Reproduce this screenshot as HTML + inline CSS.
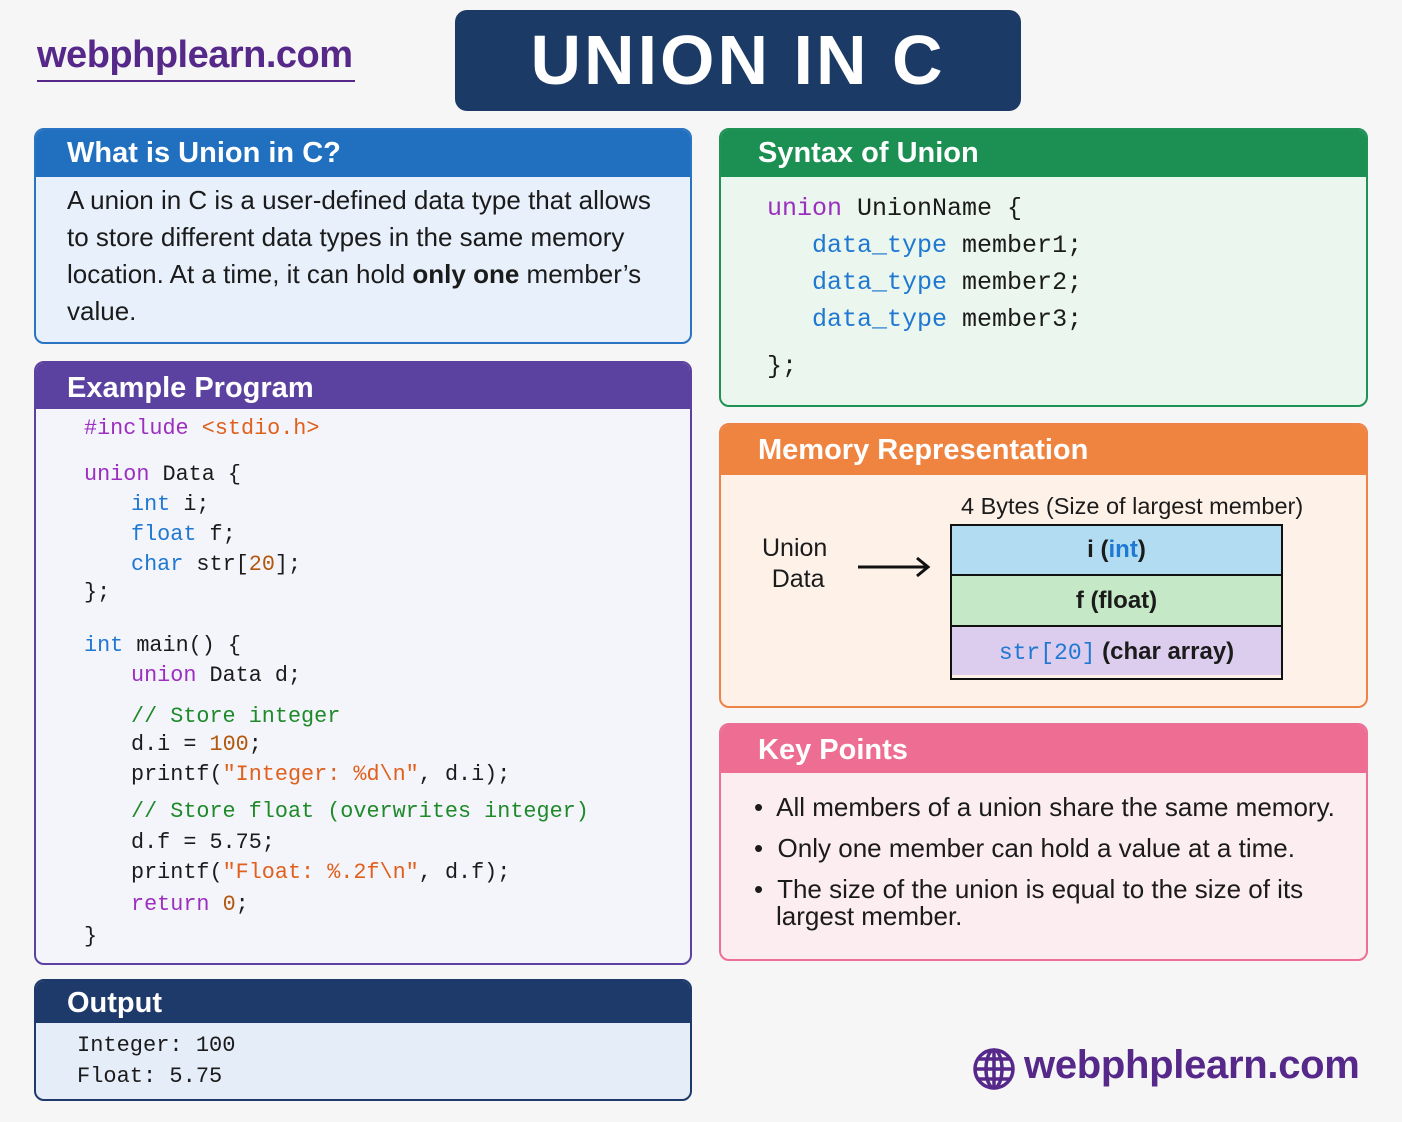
<!DOCTYPE html>
<html><head><meta charset="utf-8"><style>
*{margin:0;padding:0;box-sizing:border-box}
body{width:1402px;height:1122px;background:#f6f6f7;position:relative;overflow:hidden;font-family:"Liberation Sans",sans-serif;color:#1b1b1b}
.a{position:absolute;white-space:pre}
.box{position:absolute;border:2px solid;border-radius:10px;overflow:hidden}
.hd{position:absolute;left:0;right:0;top:0;color:#fff;font-weight:bold;font-size:29px;padding-left:31px}
.m{font-family:"Liberation Mono",monospace;font-size:21.8px}
.kw{color:#9b2fc0}.ty{color:#1f78d1}.st{color:#e0601c}.nu{color:#b3590f}.cm{color:#1e8a2a}
.t{font-size:26px}
.row{white-space:normal;text-align:center;font-size:24px;font-weight:bold}
</style></head><body>
<div class="a" style="left:37px;top:34px;font-size:38px;font-weight:bold;color:#55288a;letter-spacing:-0.5px">webphplearn.com</div>
<div class="a" style="left:37px;top:80px;width:318px;height:2px;background:#55288a"></div>
<div class="a" style="left:455px;top:10px;width:566px;height:101px;background:#1c3a66;border-radius:12px;color:#fff;font-size:70px;font-weight:bold;text-align:center;line-height:101px;letter-spacing:3px">UNION IN C</div>

<div class="box" style="left:34px;top:128px;width:658px;height:216px;border-color:#2a74c4;background:#e7f0fb">
<div class="hd" style="height:47px;background:#2170c0;line-height:47px">What is Union in C?</div>
<div class="a t" style="left:31px;top:52px;line-height:37px">A union in C is a user-defined data type that allows
to store different data types in the same memory
location. At a time, it can hold <b>only one</b> member’s
value.</div></div>

<div class="box" style="left:34px;top:361px;width:658px;height:604px;border-color:#5d41a0;background:#f4f4fb">
<div class="hd" style="height:46px;background:#5c42a0;line-height:50px">Example Program</div></div>
<div class="m">
<div class="a" style="left:84px;top:416px"><span class="kw">#include</span> <span class="st">&lt;stdio.h&gt;</span></div>
<div class="a" style="left:84px;top:462px"><span class="kw">union</span> Data {</div>
<div class="a" style="left:131px;top:492px"><span class="ty">int</span> i;</div>
<div class="a" style="left:131px;top:522px"><span class="ty">float</span> f;</div>
<div class="a" style="left:131px;top:552px"><span class="ty">char</span> str[<span class="nu">20</span>];</div>
<div class="a" style="left:84px;top:580px">};</div>
<div class="a" style="left:84px;top:633px"><span class="ty">int</span> main() {</div>
<div class="a" style="left:131px;top:663px"><span class="kw">union</span> Data d;</div>
<div class="a" style="left:131px;top:704px"><span class="cm">// Store integer</span></div>
<div class="a" style="left:131px;top:732px">d.i = <span class="nu">100</span>;</div>
<div class="a" style="left:131px;top:762px">printf(<span class="st">"Integer: %d\n"</span>, d.i);</div>
<div class="a" style="left:131px;top:799px"><span class="cm">// Store float (overwrites integer)</span></div>
<div class="a" style="left:131px;top:830px">d.f = 5.75;</div>
<div class="a" style="left:131px;top:860px">printf(<span class="st">"Float: %.2f\n"</span>, d.f);</div>
<div class="a" style="left:131px;top:892px"><span class="kw">return</span> <span class="nu">0</span>;</div>
<div class="a" style="left:84px;top:924px">}</div>
</div>

<div class="box" style="left:34px;top:979px;width:658px;height:122px;border-color:#1d3a6b;background:#e4edf8">
<div class="hd" style="height:42px;background:#1d3a6b;line-height:44px">Output</div>
<div class="a m" style="left:41px;top:49px;line-height:31px;font-size:22px">Integer: 100
Float: 5.75</div></div>

<div class="box" style="left:719px;top:128px;width:649px;height:279px;border-color:#1f9256;background:#eaf6ee">
<div class="hd" style="height:47px;background:#1c8f52;line-height:47px;padding-left:37px">Syntax of Union</div>
<div class="a m" style="left:46px;top:60px;font-size:25px;line-height:37px"><span class="kw">union</span> UnionName {
   <span class="ty">data_type</span> member1;
   <span class="ty">data_type</span> member2;
   <span class="ty">data_type</span> member3;</div>
<div class="a m" style="left:46px;top:222px;font-size:25px">};</div></div>

<div class="box" style="left:719px;top:423px;width:649px;height:285px;border-color:#ee8347;background:#fdf1e8">
<div class="hd" style="height:50px;background:#ef8440;line-height:50px;padding-left:37px">Memory Representation</div>
<div class="a" style="left:240px;top:68px;font-size:23.5px">4 Bytes (Size of largest member)</div>
<div class="a" style="left:41px;top:108px;font-size:25px;line-height:31px;text-align:center">Union
 Data</div>
<svg class="a" style="left:134px;top:128px" width="80" height="30"><line x1="3" y1="14" x2="72" y2="14" stroke="#111" stroke-width="3"/><path d="M62 5 L73 14 L62 23" fill="none" stroke="#111" stroke-width="3"/></svg>
<div class="a" style="left:229px;top:99px;width:333px;height:156px;border:2.5px solid #111;white-space:normal"><div class="row" style="height:50px;background:#b2dcf1;border-bottom:2.5px solid #111;line-height:48px">i (<span style="color:#1f78d1">int</span>)</div><div class="row" style="height:51px;background:#c5e9c6;border-bottom:2.5px solid #111;line-height:50px">f (float)</div><div class="row" style="height:48px;background:#dccdee;line-height:50px"><span class="m" style="color:#1f78d1;font-weight:normal;font-size:23px">str[20]</span> (char array)</div></div></div>

<div class="box" style="left:719px;top:723px;width:649px;height:238px;border-color:#ec7096;background:#fcedf1">
<div class="hd" style="height:48px;background:#ee6d93;line-height:50px;padding-left:37px">Key Points</div>
<div class="a t" style="left:33px;top:62px;line-height:41px">•  All members of a union share the same memory.
•  Only one member can hold a value at a time.
•  The size of the union is equal to the size of its</div>
<div class="a t" style="left:55px;top:176px">largest member.</div></div>

<svg class="a" style="left:972px;top:1047px" width="44" height="44" viewBox="0 0 44 44" fill="none" stroke="#55288a" stroke-width="3.5"><circle cx="22" cy="22" r="19"/><ellipse cx="22" cy="22" rx="8" ry="19"/><line x1="3" y1="22" x2="41" y2="22"/><line x1="22" y1="3" x2="22" y2="41"/><path d="M7 12 H37 M7 32 H37"/></svg>
<div class="a" style="left:1024px;top:1043px;font-size:40px;font-weight:bold;color:#55288a;letter-spacing:-0.3px">webphplearn.com</div>
</body></html>
